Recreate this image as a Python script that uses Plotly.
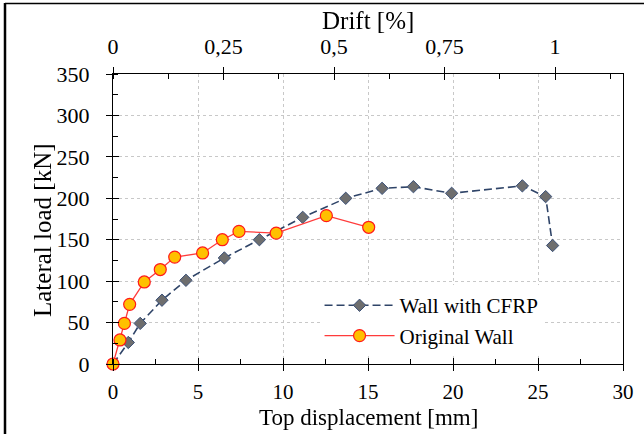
import plotly.graph_objects as go

# ---- data ----
orig_disp = [0, 0.41, 0.67, 0.98, 1.84, 2.78, 3.63, 5.27, 6.43, 7.41, 9.6, 12.55, 15.04]
orig_load = [0, 29, 49, 72, 99, 114, 129, 134, 150, 160, 158, 179, 165]

cfrp_disp = [0, 0.9, 1.6, 2.88, 4.29, 6.55, 8.61, 11.16, 13.69, 15.83, 17.67, 19.92, 24.08, 25.45, 25.86]
cfrp_load = [0, 26, 49, 77, 101, 128, 150, 177, 200, 212, 214, 206, 215, 202, 143]

drift_ticks = [0, 0.25, 0.5, 0.75, 1]
drift_text = ["0", "0,25", "0,5", "0,75", "1"]
disp_per_drift = 26.0  # mm per 1 % drift

FONT = "Liberation Serif"

def tf(size=22):
    return dict(family=FONT, size=size, color="black")

def ttf(size=25):
    return dict(family=FONT, size=size, color="black")

fig = go.Figure()
fig.add_trace(go.Scatter(
    x=cfrp_disp, y=cfrp_load, mode="lines+markers", name="Wall with CFRP",
    line=dict(color="#2F4468", width=1.6, dash="8px,4px"),
    marker=dict(symbol="diamond", size=9.5, color="#6E6E6E",
                line=dict(color="#3A5078", width=1)),
    cliponaxis=False,
))
fig.add_trace(go.Scatter(
    x=orig_disp, y=orig_load, mode="lines+markers", name="Original Wall",
    line=dict(color="#FF3B3B", width=1.3),
    marker=dict(symbol="circle", size=12, color="#FFC000",
                line=dict(color="#FF1A1A", width=1.2)),
    cliponaxis=False,
))

# invisible helper traces so the secondary / overlay axes get drawn
drift_of_cfrp = [d / disp_per_drift for d in cfrp_disp]
for xa, ya, xs in [("x2", "y", drift_of_cfrp), ("x3", "y", cfrp_disp),
                   ("x4", "y", drift_of_cfrp), ("x", "y2", cfrp_disp)]:
    fig.add_trace(go.Scatter(x=xs, y=cfrp_load, xaxis=xa, yaxis=ya,
                             mode="markers", opacity=0, showlegend=False,
                             hoverinfo="skip"))

tick_common = dict(tickwidth=1.2, tickcolor="black")

fig.update_layout(
    width=644, height=434,
    margin=dict(l=113, r=21, t=74, b=70, autoexpand=False),
    paper_bgcolor="white", plot_bgcolor="white",
    font=dict(family=FONT, color="black"),
    showlegend=True,
    legend=dict(x=0.405, y=0.272, xanchor="left", yanchor="top",
                bgcolor="white", borderwidth=0,
                font=dict(family=FONT, size=21, color="black"),
                itemwidth=70, tracegroupgap=0),
    xaxis=dict(
        range=[0, 30], dtick=5, tick0=0,
        showline=True, linecolor="black", linewidth=1.3,
        ticks="outside", ticklen=6, **tick_common,
        minor=dict(dtick=2.5, ticks="inside", ticklen=5, tickcolor="black", tickwidth=1.2, showgrid=False),
        showgrid=True, gridcolor="#C8C8C8", griddash="dot", gridwidth=1,
        zeroline=False, tickfont=tf(21), ticklabelstandoff=3,
        automargin=False,
    ),
    yaxis=dict(
        range=[0, 350], dtick=50, tick0=0,
        showline=True, linecolor="black", linewidth=1.3, mirror=True,
        ticks="outside", ticklen=6, **tick_common,
        minor=dict(dtick=25, ticks="inside", ticklen=5, tickcolor="black", tickwidth=1.2, showgrid=False),
        showgrid=True, gridcolor="#C8C8C8", griddash="dot", gridwidth=1,
        zeroline=False, tickfont=tf(), ticklabelstandoff=12,
        automargin=False,
    ),
    xaxis2=dict(
        overlaying="x", side="top", anchor="y",
        range=[0, 30 / disp_per_drift],
        tickvals=drift_ticks, ticktext=drift_text,
        showline=True, linecolor="black", linewidth=1.3,
        ticks="outside", ticklen=6, **tick_common,
        minor=dict(dtick=0.125, tick0=0, ticks="inside", ticklen=5, tickcolor="black", tickwidth=1.2, showgrid=False),
        showgrid=False, zeroline=False, tickfont=tf(), ticklabelstandoff=4,
        automargin=False,
    ),
    # inside halves of the crossing major ticks
    xaxis3=dict(overlaying="x", anchor="y", side="bottom", range=[0, 30], dtick=5, tick0=0,
                ticks="inside", ticklen=6, **tick_common,
                showticklabels=False, showgrid=False, zeroline=False, showline=False),
    xaxis4=dict(overlaying="x", side="top", anchor="y", range=[0, 30 / disp_per_drift],
                tickvals=drift_ticks, ticks="inside", ticklen=6, **tick_common,
                showticklabels=False, showgrid=False, zeroline=False, showline=False),
    yaxis2=dict(overlaying="y", anchor="x", side="left", range=[0, 350], dtick=50, tick0=0,
                ticks="inside", ticklen=6, **tick_common,
                showticklabels=False, showgrid=False, zeroline=False, showline=False),
)

# axis titles
fig.add_annotation(text="Top displacement [mm]", xref="paper", yref="paper",
                   x=0.5, y=(364 - 417) / 290, xanchor="center", yanchor="middle",
                   showarrow=False, font=ttf(23))
fig.add_annotation(text="Drift [%]", xref="paper", yref="paper",
                   x=0.5, y=(364 - 20) / 290, xanchor="center", yanchor="middle",
                   showarrow=False, font=ttf(25))
fig.add_annotation(text="Lateral load [kN]", xref="paper", yref="paper",
                   x=(42 - 113) / 510, y=(364 - 230) / 290, xanchor="center", yanchor="middle",
                   textangle=-90, showarrow=False, font=ttf(25))

# outer frame (top and left edges of the original figure border)
fig.add_shape(type="line", xref="paper", yref="paper",
              x0=(5 - 113) / 510, x1=(644 - 113) / 510,
              y0=(364 - 3.5) / 290, y1=(364 - 3.5) / 290,
              line=dict(color="black", width=1.5))
fig.add_shape(type="line", xref="paper", yref="paper",
              x0=(5 - 113) / 510, x1=(5 - 113) / 510,
              y0=(364 - 3) / 290, y1=(364 - 440) / 290,
              line=dict(color="black", width=2.5))

fig.write_html("out.html")
